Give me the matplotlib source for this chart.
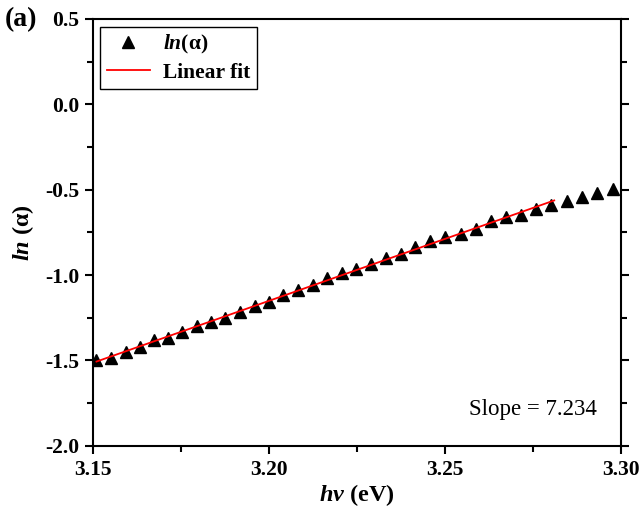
import numpy as np
import matplotlib
matplotlib.use('Agg')
import matplotlib.pyplot as plt
from matplotlib.ticker import MultipleLocator

plt.rcParams['font.family'] = 'Liberation Serif'
plt.rcParams['mathtext.fontset'] = 'custom'
plt.rcParams['mathtext.it'] = 'Liberation Serif:italic:bold'
plt.rcParams['mathtext.rm'] = 'Liberation Serif:bold'

# photon energy (eV) and ln(alpha)
hv = [3.1510, 3.1552, 3.1593, 3.1634, 3.1673, 3.1713, 3.1754, 3.1795, 3.1836,
      3.1876, 3.1918, 3.1959, 3.1999, 3.2041, 3.2082, 3.2124, 3.2165, 3.2206,
      3.2248, 3.2290, 3.2333, 3.2374, 3.2416, 3.2458, 3.2501, 3.2545, 3.2587,
      3.2631, 3.2674, 3.2716, 3.2758, 3.2801, 3.2845, 3.2888, 3.2931, 3.2976]
ln_alpha = [-1.500, -1.484, -1.451, -1.422, -1.379, -1.369, -1.334, -1.297, -1.273,
            -1.254, -1.215, -1.184, -1.158, -1.119, -1.090, -1.059, -1.020, -0.988,
            -0.963, -0.934, -0.900, -0.877, -0.838, -0.801, -0.777, -0.762, -0.729,
            -0.686, -0.660, -0.646, -0.613, -0.590, -0.564, -0.543, -0.518, -0.496]
fit_upto = 3.281
slope_text = 'Slope = 7.234'

hv = np.array(hv)
ln_alpha = np.array(ln_alpha)
sel = hv <= fit_upto
p = np.polyfit(hv[sel], ln_alpha[sel], 1)
xf = np.array([hv[sel][0], fit_upto])

fig = plt.figure(figsize=(6.41, 5.13), dpi=100)
ax = fig.add_axes([0.145, 0.131, 0.824, 0.832])

ax.plot(hv, ln_alpha, '^', color='black', markersize=8, label=r'$ln$(α)', zorder=2)
ax.plot(xf, np.polyval(p, xf), '-', color='red', lw=1.3, label='Linear fit', zorder=3)

ax.set_xlim(3.15, 3.30)
ax.set_ylim(-2.0, 0.5)
ax.xaxis.set_major_locator(MultipleLocator(0.05))
ax.xaxis.set_minor_locator(MultipleLocator(0.025))
ax.yaxis.set_major_locator(MultipleLocator(0.5))
ax.yaxis.set_minor_locator(MultipleLocator(0.25))
ax.xaxis.set_major_formatter(matplotlib.ticker.FormatStrFormatter('%.2f'))
ax.yaxis.set_major_formatter(matplotlib.ticker.FormatStrFormatter('%.1f'))
ax.tick_params(which='both', direction='out', top=False, right=True, width=1.5)
ax.tick_params(which='major', length=6, labelsize=15.5, pad=4)
ax.tick_params(which='minor', length=4)
for lbl in ax.get_xticklabels() + ax.get_yticklabels():
    lbl.set_fontweight('bold')
for s in ax.spines.values():
    s.set_linewidth(1.5)

ax.set_xlabel(r'$hv$ (eV)', fontsize=17.5, fontweight='bold', labelpad=2)
ax.set_ylabel(r'$ln$ (α)', fontsize=17.5, fontweight='bold', labelpad=6)

leg = ax.legend(loc='upper left', prop={'weight': 'bold', 'size': 15.5},
                fancybox=False, edgecolor='black', framealpha=1,
                handlelength=2.0, handletextpad=0.6, borderaxespad=0.35,
                borderpad=0.3, labelspacing=0.3)
leg.get_frame().set_linewidth(1.0)

ax.text(0.955, 0.084, slope_text, transform=ax.transAxes, ha='right', va='center',
        fontsize=16.5)
fig.text(0.008, 0.962, '(a)', fontsize=20, fontweight='bold', va='center')

plt.savefig('out.png', dpi=100)
